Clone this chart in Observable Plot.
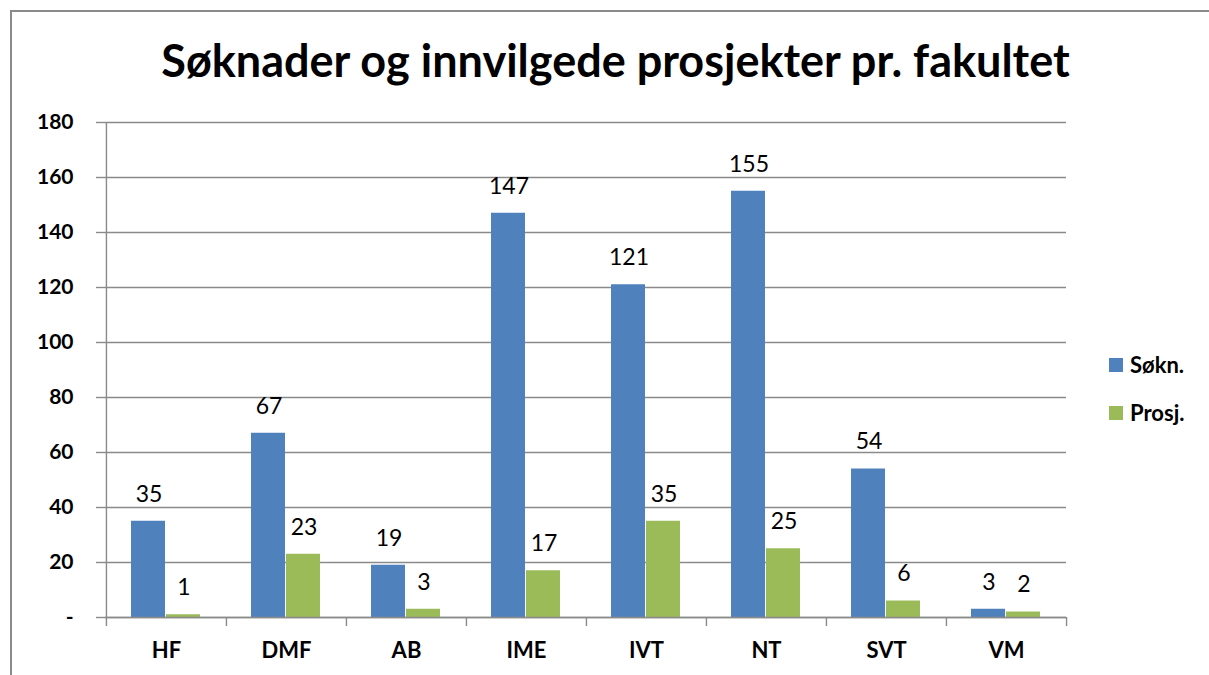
<!DOCTYPE html>
<html>
<head>
<meta charset="utf-8">
<script src="https://cdn.jsdelivr.net/npm/d3@7"></script>
<script src="https://cdn.jsdelivr.net/npm/@observablehq/plot@0.6"></script>
<style>
  html, body { margin: 0; padding: 0; background: #fff; }
  #wrap { position: relative; width: 1209px; height: 675px; overflow: hidden; font-family: Lato, "Open Sans", sans-serif; }
  #border { position: absolute; left: 10px; top: 10px; width: 1220px; height: 700px; border-left: 2px solid #8a8a8a; border-top: 2px solid #8a8a8a; box-sizing: border-box; }
  #title { position: absolute; left: 0; width: 1231px; top: 33px; text-align: center; font-weight: 700; font-size: 45px; line-height: 54px; color: #000; }
  #chart { position: absolute; left: 0; top: 100px; }
  .leg { position: absolute; left: 1109px; font-weight: 700; font-size: 22px; line-height: 24px; color: #000; display: flex; align-items: center; }
  .leg span.sw { display: inline-block; width: 14px; height: 14px; margin-right: 7px; }
</style>
</head>
<body>
<div id="wrap">
  <div id="border"></div>
  <div id="title">Søknader og innvilgede prosjekter pr. fakultet</div>
  <div id="chart"></div>
  <div id="legend"></div>
</div>
<script>
const categories = ["HF", "DMF", "AB", "IME", "IVT", "NT", "SVT", "VM"];
const seriesNames = ["Søkn.", "Prosj."];
const soknValues = [35, 67, 19, 147, 121, 155, 54, 3];
const prosjValues = [1, 23, 3, 17, 35, 25, 6, 2];
const yTicks = [0, 20, 40, 60, 80, 100, 120, 140, 160, 180];
const colors = ["#4F81BD", "#9BBB59"];

const soknData = categories.map((c, i) => ({cat: c, series: seriesNames[0], value: soknValues[i]}));
const prosjData = categories.map((c, i) => ({cat: c, series: seriesNames[1], value: prosjValues[i]}));

const W = 1209, H = 575;
const mL = 105, mR = 143, mT = 22, mB = 58;
const half = (W - mL - mR) / categories.length / 2;
const grid = "#8a8a8a";

const chart = Plot.plot({
  width: W,
  height: H,
  marginLeft: mL,
  marginRight: mR,
  marginTop: mT,
  marginBottom: mB,
  style: {fontFamily: "Lato, 'Open Sans', sans-serif", background: "transparent"},
  x: {domain: categories, padding: 0},
  y: {domain: [yTicks[0], yTicks[yTicks.length - 1]]},
  marks: [
    Plot.gridY(yTicks, {stroke: grid, strokeOpacity: 1, strokeWidth: 1.4}),
    Plot.axisY({ticks: yTicks, tickSize: 9, tickPadding: 23, stroke: grid, strokeWidth: 1.4,
      tickFormat: d => d === 0 ? "-" : String(d), fontSize: 21, fontWeight: 700, fill: "#000", label: null}),
    Plot.ruleX([categories[0]], {dx: -half, y1: yTicks[0], y2: yTicks[yTicks.length - 1], stroke: grid, strokeWidth: 1.4}),
    Plot.axisX({tickSize: 9, dx: -half, tickFormat: () => "", stroke: grid, strokeWidth: 1.4, label: null}),
    Plot.axisX([categories[categories.length - 1]], {tickSize: 9, dx: half, tickFormat: () => "", stroke: grid, strokeWidth: 1.4, label: null}),
    Plot.axisX({tickSize: 0, tickPadding: 25, fontSize: 22, fontWeight: 700, fill: "#000", label: null}),
    Plot.barY(soknData, {x: "cat", y: "value", fill: colors[0], insetLeft: 25, insetRight: 61}),
    Plot.barY(prosjData, {x: "cat", y: "value", fill: colors[1], insetLeft: 60, insetRight: 26}),
    Plot.ruleY([yTicks[0]], {stroke: grid, strokeWidth: 1.4}),
    Plot.text(soknData, {x: "cat", y: "value", text: d => String(d.value), dx: -17.5, dy: -27, fontSize: 23, fill: "#000"}),
    Plot.text(prosjData, {x: "cat", y: "value", text: d => String(d.value), dx: 17.5, dy: -27, fontSize: 23, fill: "#000"})
  ]
});
document.getElementById("chart").appendChild(chart);

const legend = document.getElementById("legend");
const legTops = [353, 401];
seriesNames.forEach((s, i) => {
  const d = document.createElement("div");
  d.className = "leg";
  d.style.top = legTops[i] + "px";
  const sw = document.createElement("span");
  sw.className = "sw";
  sw.style.background = colors[i];
  d.appendChild(sw);
  d.appendChild(document.createTextNode(s));
  legend.appendChild(d);
});
</script>
</body>
</html>
